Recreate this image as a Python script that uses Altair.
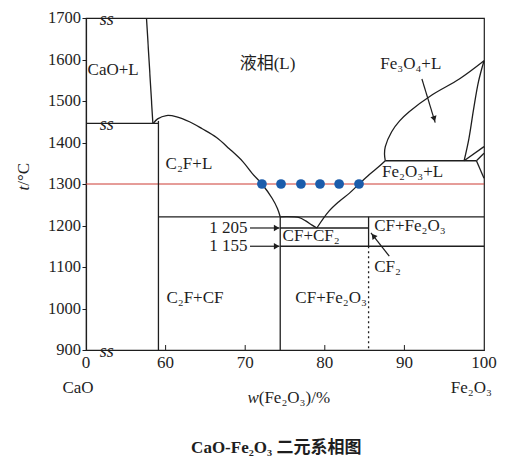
import altair as alt
import pandas as pd

# ---------------- data (w(Fe2O3) %, t °C) ----------------
cao_liq_x = [57.6, 58.4]
cao_liq_y = [1700, 1446]
per_1445_x = [50, 59.1]
per_1445_y = [1446, 1446]
c2f_x = [59.1, 59.1]
c2f_y = [1452, 900]
c2f_liq_x = [58.45, 59.0, 60.1, 61.4, 63.0, 64.6, 66.4, 68.0, 69.7, 70.9, 72.1, 73.4, 74.05, 74.4]
c2f_liq_y = [1446, 1457, 1465, 1462, 1450, 1433, 1412, 1385, 1354, 1325, 1300, 1265, 1241, 1221]
top_1216_x = [59.1, 100]
top_1216_y = [1221, 1221]
cf_x = [74.4, 74.4]
cf_y = [1221, 900]
cf_liq_x = [74.4, 76.8, 77.6, 78.4, 79.0]
cf_liq_y = [1221, 1219, 1211, 1201, 1194]
fe2o3_liq_x = [79.0, 80.5, 81.8, 83.1, 84.3, 85.6, 86.8, 87.6]
fe2o3_liq_y = [1194, 1234, 1258, 1278, 1300, 1323, 1342, 1356]
line_1205_x = [74.4, 85.5]
line_1205_y = [1194, 1194]
line_1155_x = [74.4, 100]
line_1155_y = [1150, 1150]
cf2_x = [85.5, 85.5]
cf2_y = [1221, 1150]
per_1350_x = [87.6, 99.05]
per_1350_y = [1356, 1356]
fe3o4_liq_x = [87.6, 87.5, 87.6, 88.4, 89.4, 90.6, 93.5, 96.9, 100]
fe3o4_liq_y = [1356, 1372, 1390, 1426, 1452, 1474, 1515, 1553, 1597]
fe3o4_sol_x = [97.5, 98.1, 98.7, 99.3, 100]
fe3o4_sol_y = [1356, 1409, 1481, 1546, 1597]
small1_x = [97.5, 100]
small1_y = [1356, 1390]
small2_x = [99.05, 100]
small2_y = [1356, 1374]
small3_x = [99.05, 100]
small3_y = [1356, 1314]

dotted_x = [85.5]
dotted_y = [1150]
dotted_y2 = [900]

dots_x = [72.1, 74.5, 77.0, 79.4, 81.8, 84.3]
dots_t = 1300

x_ticks = [50, 60, 70, 80, 90, 100]
x_tick_labels = ["0", "60", "70", "80", "90", "100"]
inner_ticks = [60, 70, 80, 90]
y_ticks = [900, 1000, 1100, 1200, 1300, 1400, 1500, 1600, 1700]
y_tick_labels = ["900", "1000", "1100", "1200", "1300", "1400", "1500", "1600", "1700"]
break_x = 52.6
break_y = [1700, 1446, 900]

label_text = ["CaO+L", "液相(L)", "Fe₃O₄+L", "C₂F+L", "Fe₂O₃+L", "CF+CF₂",
              "CF+Fe₂O₃", "CF₂", "C₂F+CF", "CF+Fe₂O₃"]
label_x = [50.2, 69.3, 86.96, 60.0, 87.2, 74.7, 86.2, 86.2, 60.1, 76.3]
label_y = [1575, 1589, 1589, 1347, 1330, 1174, 1198, 1099, 1025, 1025]

temp_text = ["1 205", "1 155"]
temp_x = [70.3, 70.3]
temp_y = [1194, 1150]

arrow_x = [70.6, 70.6, 88.1, 92.2]
arrow_y = [1194, 1150, 1126, 1553]
arrow_x2 = [74.3, 74.3, 85.8, 93.87]
arrow_y2 = [1194, 1150, 1182, 1448]
head_x = [73.95, 73.95, 86.1, 93.75]
head_y = [1194, 1150, 1175, 1457]
head_angle = [90, 90, 322, 163]

SERIF = "Liberation Serif"
CJK = "Liberation Serif, Noto Sans CJK SC"
INK = "#1e1e1e"

segments = {
    "cao_liq": (cao_liq_x, cao_liq_y),
    "per_1445": (per_1445_x, per_1445_y),
    "c2f": (c2f_x, c2f_y),
    "c2f_liq": (c2f_liq_x, c2f_liq_y),
    "top_1216": (top_1216_x, top_1216_y),
    "cf": (cf_x, cf_y),
    "cf_liq": (cf_liq_x, cf_liq_y),
    "fe2o3_liq": (fe2o3_liq_x, fe2o3_liq_y),
    "line_1205": (line_1205_x, line_1205_y),
    "line_1155": (line_1155_x, line_1155_y),
    "cf2": (cf2_x, cf2_y),
    "per_1350": (per_1350_x, per_1350_y),
    "fe3o4_liq": (fe3o4_liq_x, fe3o4_liq_y),
    "fe3o4_sol": (fe3o4_sol_x, fe3o4_sol_y),
    "small1": (small1_x, small1_y),
    "small2": (small2_x, small2_y),
    "small3": (small3_x, small3_y),
}
rows = []
for name, (xs, ys) in segments.items():
    for i, (a, b) in enumerate(zip(xs, ys)):
        rows.append({"seg": name, "i": i, "x": a, "y": b})
lines_df = pd.DataFrame(rows)

xscale = alt.Scale(domain=[50, 100], nice=False, zero=False)
yscale = alt.Scale(domain=[900, 1700], nice=False, zero=False)
xaxis = alt.Axis(values=x_ticks, title=None, grid=False, ticks=False, labels=False)
yaxis = alt.Axis(values=y_ticks, title=None, grid=False, tickSize=4, labels=False)


def X(f="x"):
    return alt.X(f"{f}:Q", scale=xscale, axis=xaxis)


def Y(f="y"):
    return alt.Y(f"{f}:Q", scale=yscale, axis=yaxis)


lines = alt.Chart(lines_df).mark_line(color=INK, strokeWidth=1.3, interpolate="catmull-rom").encode(
    x=X(), y=Y(), detail="seg:N", order="i:Q")

red = alt.Chart(pd.DataFrame({"x": [50], "x2": [100], "y": [dots_t]})).mark_rule(
    color="#cc3b33", strokeWidth=1).encode(x=X(), x2="x2:Q", y=Y())

dotted = alt.Chart(pd.DataFrame({"x": dotted_x, "y": dotted_y, "y2": dotted_y2})).mark_rule(
    color=INK, strokeWidth=1.3, strokeDash=[2, 3]).encode(x=X(), y=Y(), y2="y2:Q")

dots = alt.Chart(pd.DataFrame({"x": dots_x, "y": [dots_t] * len(dots_x)})).mark_circle(
    size=95, color="#1b5cab", opacity=1).encode(x=X(), y=Y())

ticks = alt.Chart(pd.DataFrame({"x": inner_ticks, "y": [900] * 4, "y2": [912] * 4})).mark_rule(
    color=INK, strokeWidth=1).encode(x=X(), y=Y(), y2="y2:Q")

xlab = alt.Chart(pd.DataFrame({"x": x_ticks, "y": [900] * 6, "t": x_tick_labels})).mark_text(
    font=SERIF, fontSize=17, color=INK, align="center", baseline="top", dy=5
).encode(x=X(), y=Y(), text="t:N")

ylab = alt.Chart(pd.DataFrame({"x": [50] * 9, "y": y_ticks, "t": y_tick_labels})).mark_text(
    font=SERIF, fontSize=16.5, color=INK, align="right", baseline="middle", dx=-5
).encode(x=X(), y=Y(), text="t:N")

breaks = alt.Chart(pd.DataFrame({"x": [break_x] * 3, "y": break_y, "t": ["ss"] * 3})).mark_text(
    font=SERIF, fontSize=18, color=INK, baseline="middle", align="center", fontStyle="italic", dy=2
).encode(x=X(), y=Y(), text="t:N")

labels = alt.Chart(pd.DataFrame({"x": label_x, "y": label_y, "t": label_text})).mark_text(
    font=CJK, fontSize=17, color=INK, align="left", baseline="middle"
).encode(x=X(), y=Y(), text="t:N")

temps = alt.Chart(pd.DataFrame({"x": temp_x, "y": temp_y, "t": temp_text})).mark_text(
    font=SERIF, fontSize=17, color=INK, align="right", baseline="middle"
).encode(x=X(), y=Y(), text="t:N")

arrows = alt.Chart(pd.DataFrame({"x": arrow_x, "y": arrow_y, "x2": arrow_x2, "y2": arrow_y2})).mark_rule(
    color=INK, strokeWidth=1.2).encode(x=X(), y=Y(), x2="x2:Q", y2="y2:Q")

heads = alt.Chart(pd.DataFrame({"x": head_x, "y": head_y, "a": head_angle})).mark_point(
    shape="triangle-up", filled=True, size=40, color=INK, opacity=1).encode(
    x=X(), y=Y(), angle=alt.Angle("a:Q", scale=None))

outer_df = pd.DataFrame({
    "x": [49.0, 98.4, 73.9],
    "y": [809, 809, 665],
    "t": ["CaO", "Fe₂O₃", "CaO-Fe₂O₃ 二元系相图"],
})
outer = alt.Chart(outer_df.iloc[:2]).mark_text(
    font=SERIF, fontSize=17, color=INK, align="center", baseline="middle"
).encode(x=X(), y=Y(), text="t:N")
title = alt.Chart(outer_df.iloc[2:]).mark_text(
    font=CJK, fontSize=17, fontWeight="bold", color=INK,
    align="center", baseline="middle"
).encode(x=X(), y=Y(), text="t:N")

xt1 = alt.Chart(pd.DataFrame({"x": [71.7], "y": [785], "t": ["w"]})).mark_text(
    font=SERIF, fontSize=17, fontStyle="italic", color=INK, align="right", baseline="middle"
).encode(x=X(), y=Y(), text="t:N")
xt2 = alt.Chart(pd.DataFrame({"x": [71.7], "y": [785], "t": ["(Fe₂O₃)/%"]})).mark_text(
    font=SERIF, fontSize=17, color=INK, align="left", baseline="middle"
).encode(x=X(), y=Y(), text="t:N")
yt1 = alt.Chart(pd.DataFrame({"x": [42.2], "y": [1296], "t": ["t"]})).mark_text(
    font=SERIF, fontSize=17, fontStyle="italic", color=INK, align="right", baseline="middle", angle=270
).encode(x=X(), y=Y(), text="t:N")
yt2 = alt.Chart(pd.DataFrame({"x": [42.2], "y": [1296], "t": ["/°C"]})).mark_text(
    font=SERIF, fontSize=17, color=INK, align="left", baseline="middle", angle=270
).encode(x=X(), y=Y(), text="t:N")

chart = alt.layer(
    red, lines, dotted, ticks, dots, xlab, ylab, breaks, labels, temps, arrows, heads,
    outer, title, xt1, xt2, yt1, yt2
).properties(
    width=398, height=332,
    autosize=alt.AutoSizeParams(type="none"),
    padding={"left": 78, "top": 10, "right": 28, "bottom": 115},
    background="white",
).configure_view(stroke=INK, strokeWidth=1.2).configure_axis(
    domainColor=INK, tickColor=INK, domainWidth=1.2
)

chart.save("out.html", embed_options={"renderer": "svg", "actions": False})
